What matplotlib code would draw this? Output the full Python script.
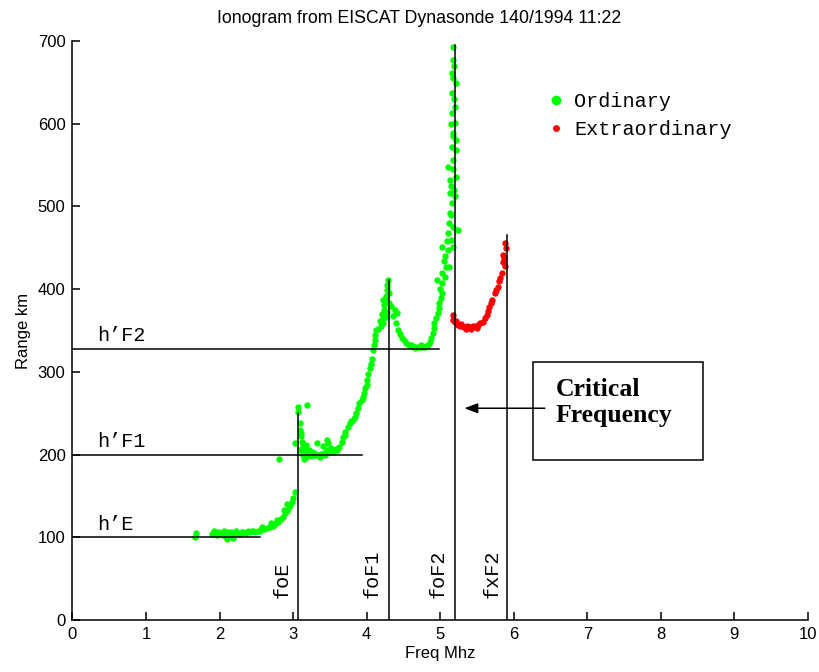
"""
Ionogram from EISCAT Dynasonde with layer heights and critical frequencies
"""
import matplotlib.pyplot as plt
from matplotlib.lines import Line2D
from matplotlib.patches import Rectangle

# ordinary trace (green)
ord_freq = [1.66, 1.68, 1.90, 1.93, 1.96, 2.00, 2.03, 2.06, 2.08, 2.10, 2.13, 2.16, 2.18, 2.20,
            2.24, 2.28, 2.32, 2.36, 2.40, 2.44, 2.48, 2.52, 2.55, 2.60, 2.64, 2.68, 2.72, 2.76,
            2.80, 2.84, 2.86, 2.89, 2.91, 2.94, 2.96, 2.98, 3.00, 3.03, 2.81,
            1.92, 1.98, 2.05, 2.12, 2.22, 2.30, 2.38, 2.46, 2.58, 2.70, 2.78, 2.88, 2.92,
            3.07, 3.07, 3.19, 3.02, 3.09, 3.10, 3.11, 3.12, 3.10, 3.13, 3.14, 3.15, 3.16, 3.18,
            3.20, 3.22, 3.24, 3.26, 3.28, 3.30, 3.32, 3.34, 3.38, 3.42, 3.46, 3.48, 3.46, 3.50,
            3.54, 3.58, 3.63, 3.66, 3.68, 3.71, 3.74, 3.77, 3.81, 3.84, 3.86, 3.88, 3.90, 3.93,
            3.95, 3.97, 3.98, 4.00, 4.01, 4.02, 4.04, 4.06, 4.07, 4.09, 4.10, 4.11, 4.12, 4.13,
            3.11, 3.13, 3.17, 3.21, 3.25, 3.36, 3.40, 3.44, 3.52, 3.56, 3.60, 3.70, 3.79,
            4.16, 4.20, 4.22, 4.22, 4.24, 4.22, 4.24, 4.26, 4.27, 4.28, 4.29, 4.31, 4.31, 4.28,
            4.26, 4.38, 4.41, 4.40, 4.43, 4.45, 4.48, 4.51, 4.54, 4.58, 4.63, 4.68, 4.72, 4.77,
            4.81, 4.84, 4.86, 4.88, 4.90, 4.91, 4.92, 4.94, 4.97, 4.98, 4.99, 5.01, 5.02, 4.95,
            5.02, 5.03, 5.08, 5.12, 5.03, 5.10, 5.17, 5.10, 5.17, 5.24, 5.13, 5.16, 5.13, 5.20,
            5.13, 5.22, 5.10, 5.17, 5.16, 5.22, 5.17, 5.20, 5.16, 5.20, 5.16, 5.22, 5.16, 5.17,
            5.17, 5.18, 5.15, 5.19, 5.18, 5.19, 5.15, 5.18, 5.12, 5.14, 5.07, 5.06, 5.00,
            4.18, 4.21, 4.25, 4.33, 4.36, 4.60, 4.66, 4.74, 4.79, 5.05, 5.09, 5.14, 5.19, 5.21]
ord_range = [100, 105, 104, 106, 103, 105, 104, 107, 102, 98, 104, 106, 99, 104,
             105, 104, 106, 105, 106, 107, 106, 108, 108, 110, 111, 113, 114, 116,
             118, 122, 125, 129, 132, 136, 139, 143, 147, 155, 195,
             107, 106, 103, 106, 107, 106, 107, 108, 112, 117, 121, 133, 140,
             252, 258, 260, 214, 238, 230, 222, 215, 205, 200, 208, 195, 203, 212,
             199, 204, 198, 200, 202, 199, 214, 200, 201, 202, 218, 214, 205, 203,
             205, 207, 209, 215, 221, 227, 233, 238, 242, 246, 250, 256, 262, 266,
             270, 274, 280, 284, 290, 298, 305, 310, 316, 326, 332, 338, 345, 351,
             226, 210, 197, 206, 203, 197, 210, 200, 208, 203, 206, 224, 240,
             352, 355, 359, 365, 375, 387, 381, 392, 399, 405, 411, 395, 383, 372,
             366, 375, 371, 359, 351, 346, 341, 338, 335, 333, 331, 330, 330, 330,
             331, 333, 336, 341, 347, 353, 359, 365, 371, 377, 383, 389, 395, 411,
             407, 420, 427, 427, 451, 447, 451, 468, 475, 472, 492, 504, 516, 512,
             532, 536, 548, 556, 572, 568, 589, 601, 613, 620, 637, 649, 661, 677,
             693, 585, 600, 630, 655, 670, 525, 545, 480, 460, 440, 415, 400,
             362, 370, 388, 380, 368, 332, 329, 332, 330, 434, 458, 490, 520, 580]

# extraordinary trace (red)
ext_freq = [5.17, 5.17, 5.20, 5.24, 5.27, 5.30, 5.33, 5.36, 5.40, 5.44, 5.48, 5.51, 5.54, 5.58,
            5.61, 5.63, 5.65, 5.67, 5.69, 5.71, 5.74, 5.76, 5.78, 5.80, 5.81, 5.84, 5.85, 5.85,
            5.87, 5.88, 5.89, 5.88, 5.22, 5.28, 5.35, 5.42, 5.50]
ext_range = [363, 369, 360, 357, 355, 356, 354, 355, 354, 356, 355, 357, 359, 360,
             365, 369, 373, 378, 383, 387, 395, 399, 403, 410, 413, 420, 433, 441,
             438, 456, 450, 428, 362, 358, 352, 352, 353]

# virtual heights of the layers and where their lines stop
layer_names = ["h\u2019E", "h\u2019F1", "h\u2019F2"]
layer_heights = [100, 200, 328]
layer_ends = [2.55, 3.93, 4.99]

# critical frequencies and the top of their lines
crit_names = ["foE", "foF1", "foF2", "fxF2"]
crit_freqs = [3.07, 4.30, 5.20, 5.91]
crit_tops = [250, 411, 695, 465]
crit_label_x = [2.85, 4.08, 4.97, 5.70]

mono = "Liberation Mono"

fig = plt.figure(figsize=(8.19, 6.72), dpi=100)
ax = fig.add_axes([0.0885, 0.0774, 0.898, 0.8616])

ax.plot(ord_freq, ord_range, "o", color="#00ff00", ms=4.6, mec="none")
ax.plot(ext_freq, ext_range, "o", color="#ff0000", ms=4.6, mec="none")

for name, h, end in zip(layer_names, layer_heights, layer_ends):
    ax.plot([0, end], [h, h], color="black", lw=1.1)
    ax.text(0.33, h + 9, name, family=mono, fontsize=14.5, va="baseline")

for name, f, top, lx in zip(crit_names, crit_freqs, crit_tops, crit_label_x):
    ax.plot([f, f], [0, top], color="black", lw=1.1)
    ax.text(lx, 27, name, family=mono, fontsize=14.5, rotation=90,
            ha="center", va="bottom")

# critical frequency box + arrow
ax.add_patch(Rectangle((6.26, 194), 2.31, 118, fill=False, ec="black", lw=1.1))
ax.text(6.57, 293, "Critical\nFrequency", family="Liberation Serif", fontweight="bold",
        fontsize=18.5, va="top", ha="left", linespacing=1.2)
ax.annotate("", xy=(5.29, 256), xytext=(6.46, 256),
            arrowprops=dict(arrowstyle="-|>,head_length=0.8,head_width=0.3",
                            color="black", lw=1.1))

handles = [Line2D([], [], ls="none", marker="o", color="#00ff00", ms=7, mec="none"),
           Line2D([], [], ls="none", marker="o", color="#ff0000", ms=5, mec="none")]
ax.legend(handles, ["Ordinary", "Extraordinary"], loc="upper left",
          bbox_to_anchor=(0.63, 0.93), frameon=False, borderpad=0,
          handlelength=1.0, handletextpad=0.4, labelspacing=0.45,
          prop={"family": mono, "size": 14.5})

ax.set_xlim(0, 10)
ax.set_ylim(0, 700)
ax.set_xticks(range(0, 11))
ax.set_yticks(range(0, 701, 100))
for s in ["top", "right"]:
    ax.spines[s].set_visible(False)
for s in ["left", "bottom"]:
    ax.spines[s].set_linewidth(1.1)
ax.tick_params(direction="in", length=6, width=1.1, labelsize=12, pad=5)
for lab in ax.get_xticklabels() + ax.get_yticklabels():
    lab.set_family("Liberation Sans")

ax.set_xlabel("Freq Mhz", family="Liberation Sans", fontsize=12, labelpad=3)
ax.set_ylabel("Range km", family="Liberation Sans", fontsize=12, labelpad=5)
fig.text(0.512, 0.972, "Ionogram from EISCAT Dynasonde 140/1994 11:22",
         family="Liberation Sans", fontsize=12.8, ha="center", va="center")

plt.savefig("out.png")
